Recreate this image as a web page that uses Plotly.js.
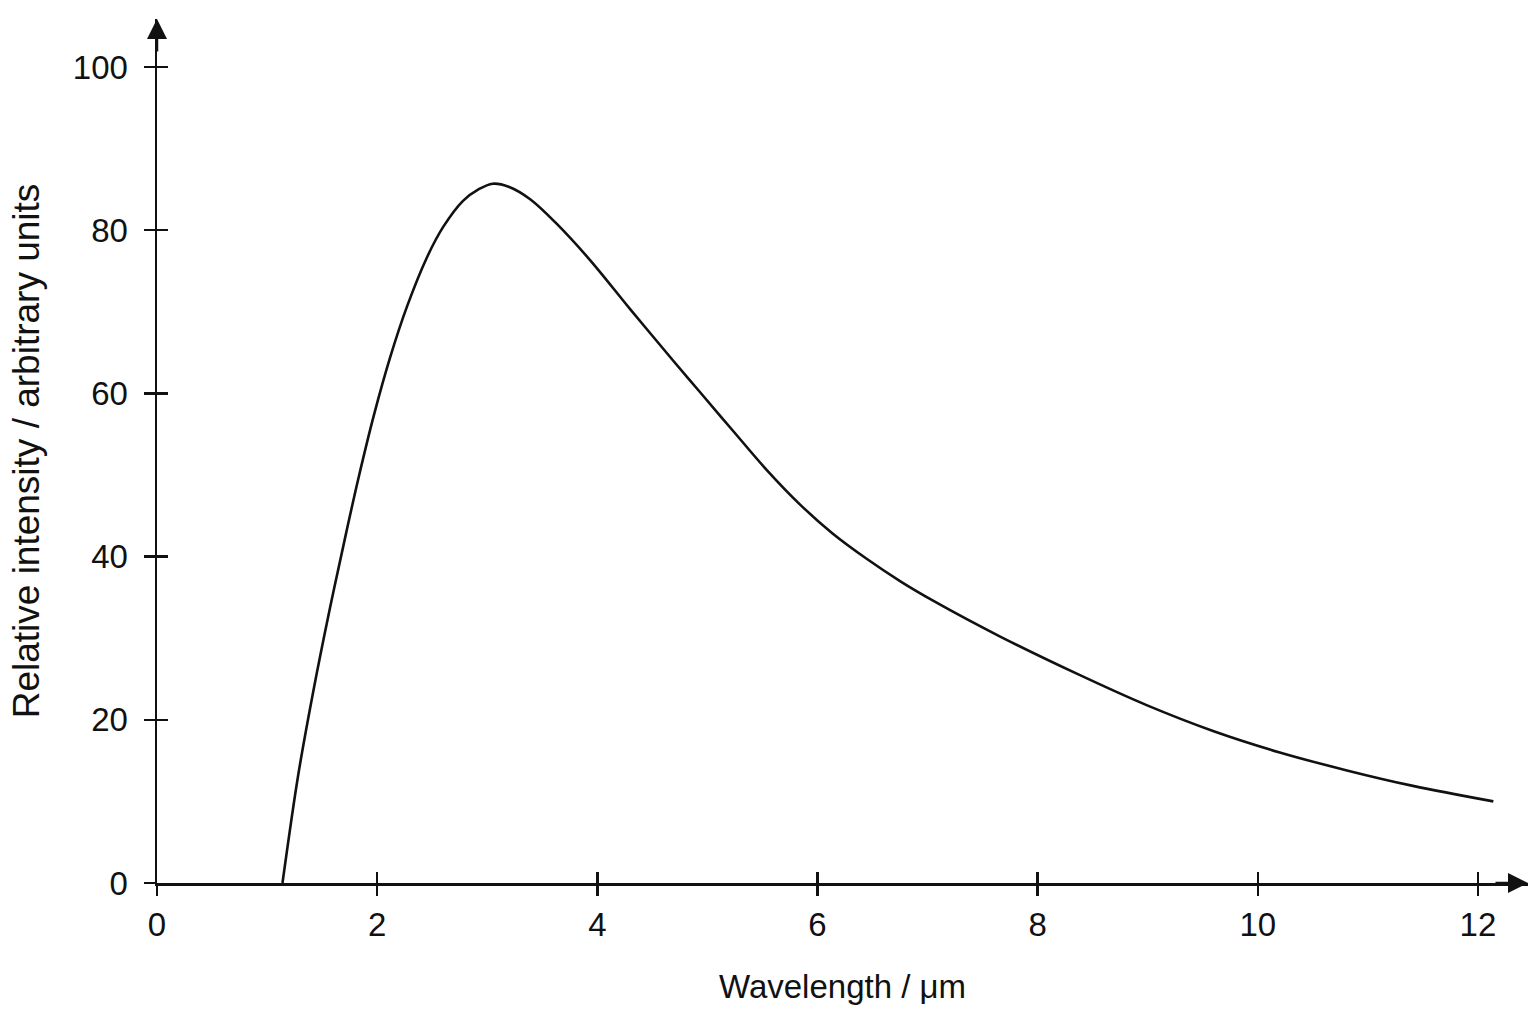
<!DOCTYPE html>
<html>
<head>
<meta charset="utf-8">
<script src="https://cdn.plot.ly/plotly-3.0.1.min.js"></script>
<style>html,body{margin:0;padding:0;background:#fff;}#chart{width:1536px;height:1024px;}</style>
</head>
<body>
<div id="chart"></div>
<script>
// Wavelength (µm) and relative intensity
const wavelength = [1.14, 1.28, 1.42, 1.57, 1.72, 1.83, 1.97, 2.12, 2.27, 2.45, 2.60, 2.78, 2.92, 3.05, 3.20, 3.39, 3.63, 3.93, 4.30, 4.69, 4.93, 5.24, 5.54, 5.84, 6.14, 6.45, 6.75, 7.05, 7.66, 8.38, 8.99, 9.60, 10.20, 10.81, 11.41, 12.14];
const intensity  = [0.0, 13.0, 23.5, 33.6, 43.0, 49.6, 57.3, 64.5, 70.6, 76.6, 80.4, 83.6, 85.0, 85.7, 85.3, 83.8, 80.8, 76.4, 70.3, 64.0, 60.2, 55.3, 50.6, 46.4, 42.8, 39.7, 37.0, 34.6, 30.2, 25.5, 21.8, 18.6, 16.0, 13.8, 11.9, 10.0];
const xTicks = [0, 2, 4, 6, 8, 10, 12];
const yTicks = [0, 20, 40, 60, 80, 100];
const xTitle = 'Wavelength / \u03bcm';
const yTitle = 'Relative intensity / arbitrary units';

const FONT = 'Liberation Sans, Arial, sans-serif';
const INK = '#111111';
const xRange = [0, 12.455];
const yRange = [0, 105.88];

const traces = [
  {x: wavelength, y: intensity, mode: 'lines', type: 'scatter',
   line: {color: INK, width: 2.6, shape: 'spline', smoothing: 1},
   hoverinfo: 'skip', showlegend: false},
  {x: wavelength, y: intensity, mode: 'lines', type: 'scatter', xaxis: 'x2', yaxis: 'y2',
   line: {color: 'rgba(0,0,0,0)', width: 0}, hoverinfo: 'skip', showlegend: false}
];

const layout = {
  width: 1536, height: 1024,
  paper_bgcolor: '#ffffff', plot_bgcolor: '#ffffff',
  margin: {l: 157, r: 8, t: 19, b: 141},
  font: {family: FONT, color: INK, size: 33},
  showlegend: false,
  xaxis: {
    range: xRange, tickvals: xTicks, ticktext: xTicks.map(String),
    showgrid: false, zeroline: false, showline: true, linecolor: INK, linewidth: 2.5,
    ticks: 'inside', ticklen: 11, tickwidth: 2.5, tickcolor: INK,
    ticklabelstandoff: 11, tickfont: {family: FONT, size: 33, color: INK},
    title: {text: xTitle, font: {family: FONT, size: 33, color: INK}, standoff: 33},
    automargin: false, fixedrange: true
  },
  yaxis: {
    range: yRange, tickvals: yTicks, ticktext: yTicks.map(String),
    showgrid: false, zeroline: false, showline: true, linecolor: INK, linewidth: 2.5,
    ticks: 'inside', ticklen: 11, tickwidth: 2.5, tickcolor: INK,
    ticklabelstandoff: 20, tickfont: {family: FONT, size: 33, color: INK},
    title: {text: yTitle, font: {family: FONT, size: 37, color: INK}, standoff: 22},
    automargin: false, fixedrange: true
  },
  xaxis2: {
    overlaying: 'x', anchor: 'y2', range: xRange, tickvals: xTicks,
    showticklabels: false, showgrid: false, zeroline: false, showline: false,
    ticks: 'outside', ticklen: 12, tickwidth: 2.5, tickcolor: INK, fixedrange: true
  },
  yaxis2: {
    overlaying: 'y', anchor: 'x2', range: yRange, tickvals: yTicks,
    showticklabels: false, showgrid: false, zeroline: false, showline: false,
    ticks: 'outside', ticklen: 12, tickwidth: 2.5, tickcolor: INK, fixedrange: true
  },
  annotations: [
    {xref: 'x', yref: 'y', x: xRange[1], y: 0, ax: -34, ay: 0, text: '',
     showarrow: true, arrowhead: 2, arrowsize: 1.6, arrowwidth: 2.5, arrowcolor: INK},
    {xref: 'x', yref: 'y', x: 0, y: yRange[1], ax: 0, ay: 34, text: '',
     showarrow: true, arrowhead: 2, arrowsize: 1.6, arrowwidth: 2.5, arrowcolor: INK}
  ]
};

Plotly.newPlot('chart', traces, layout, {displayModeBar: false, staticPlot: true});
</script>
</body>
</html>
